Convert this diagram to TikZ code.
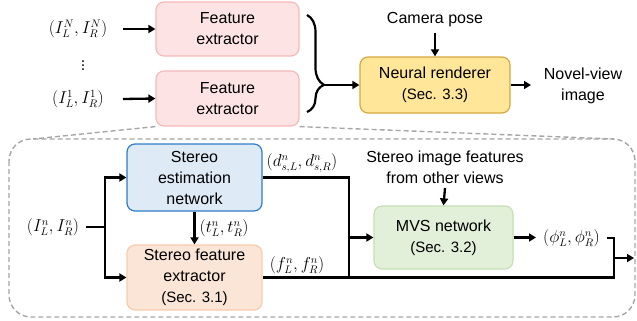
\documentclass[tikz,border=0pt]{standalone}
\usepackage{amsmath}
\usepackage{fontspec}
\setmainfont{Liberation Sans}
\usetikzlibrary{arrows.meta,decorations.pathreplacing}
\definecolor{feFill}{HTML}{FDE3E3}
\definecolor{feDraw}{HTML}{F6B8B8}
\definecolor{nrFill}{HTML}{FFE699}
\definecolor{nrDraw}{HTML}{D6A840}
\definecolor{seFill}{HTML}{DEEBF7}
\definecolor{seDraw}{HTML}{2E7DC6}
\definecolor{sfFill}{HTML}{FBE5D6}
\definecolor{sfDraw}{HTML}{F8CBAD}
\definecolor{mvFill}{HTML}{E2F0D9}
\definecolor{mvDraw}{HTML}{C5E0B4}
\definecolor{dashGray}{HTML}{A6A6A6}
\begin{document}
\begin{tikzpicture}[x=1pt,y=-1pt,
  txt/.style={font=\fontsize{16pt}{21pt}\selectfont, align=center, inner sep=0pt},
  mlab/.style={font=\fontsize{16pt}{20pt}\selectfont, inner sep=0pt},
  box/.style={rounded corners=8pt, line width=1.2pt, align=center, inner sep=0pt,
    font=\fontsize{16pt}{21pt}\selectfont},
  conn/.style={line width=2.3pt, line cap=butt},
  arr/.style={conn, -{Triangle[length=7pt,width=8pt]}},
  dsh/.style={draw=dashGray, line width=1.4pt, dash pattern=on 5pt off 3pt}
]
\useasboundingbox (0,0) rectangle (637,321);
\newcommand{\sectxt}[1]{{\fontsize{15pt}{19pt}\selectfont #1}}

% top part
\node[box, fill=feFill, draw=feDraw, minimum width=143pt, minimum height=54pt] (fe1) at (227.5,29) {Feature\\extractor};
\node[box, fill=feFill, draw=feDraw, minimum width=143pt, minimum height=55pt] (fe2) at (227.5,98.5) {Feature\\extractor};
\node[mlab] (inN) at (78,29) {$(I_L^N, I_R^N)$};
\node[mlab] (in1) at (78,99) {$(I_L^1, I_R^1)$};
\node[mlab] (vd) at (83,63) {$\boldsymbol{\vdots}$};
\coordinate (aN) at (123,29);
\coordinate (a1) at (123,99);
\draw[arr] (aN) -- (fe1.west);
\draw[arr] (a1) -- (fe2.west);

\draw[line width=2.2pt, decorate, decoration={brace, amplitude=17pt, aspect=0.72}] (307,15) -- (307,112);
\coordinate (btip) at (323,85);

\node[box, fill=nrFill, draw=nrDraw, minimum width=150pt, minimum height=56pt] (nr) at (435,85) {Neural renderer\\\sectxt{(Sec. 3.3)}};
\draw[arr] (btip) -- (nr.west);
\node[txt] (cam) at (435,20) {Camera pose};
\coordinate (camA) at (435,33);
\draw[arr] (camA) -- (nr.north);
\coordinate (nvA) at (531,85);
\draw[arr] (nr.east) -- (nvA);
\node[txt] (nv) at (583,86) {Novel-view\\image};

% dashed region
\draw[dsh, rounded corners=22pt] (9,139) rectangle (635,317);
\coordinate (dl) at (33,139);
\coordinate (dr) at (614,139);
\draw[dsh] (fe2.south west) -- (dl);
\draw[dsh] (fe2.south east) -- (dr);

% lower part
\node[box, fill=seFill, draw=seDraw, minimum width=135pt, minimum height=67pt] (se) at (194.5,177.5) {Stereo\\estimation\\network};
\node[box, fill=sfFill, draw=sfDraw, minimum width=135pt, minimum height=65pt] (sf) at (194.5,277.5) {Stereo feature\\extractor\\\sectxt{(Sec. 3.1)}};
\node[box, fill=mvFill, draw=mvDraw, minimum width=139pt, minimum height=63pt] (mvs) at (443.5,237.5) {MVS network\\\sectxt{(Sec. 3.2)}};

\node[mlab] (inn) at (53,227) {$(I_L^n, I_R^n)$};
\coordinate (ia) at (86,227);
\coordinate (ib) at (105,227);
\draw[conn] (ia) -- (ib);
\draw[arr] (ib) |- (se.west);
\draw[arr] (ib) |- (sf.west);

\draw[arr] (se.south) -- (sf.north) node[midway, right=4pt, mlab] (tl) {$(t_L^n, t_R^n)$};

\node[mlab] (dlab) at (302,163) {$(d_{s,L}^n, d_{s,R}^n)$};
\coordinate (dj) at (349,177.5);
\coordinate (djb) at (349,278.6);
\draw[conn] (se.east) -- (dj) -- (djb);
\coordinate (mvin) at (349,237.5);
\draw[arr] (mvin) -- (mvs.west);

\node[mlab] (flab) at (297,265) {$(f_L^n, f_R^n)$};
\node[txt] (oth) at (445,167) {Stereo image features\\from other views};
\coordinate (othA) at (445,188);
\draw[arr] (othA) -- (mvs.north);

\node[mlab] (phi) at (571.5,238) {$(\phi_L^n, \phi_R^n)$};
\coordinate (phA) at (536,237.5);
\draw[arr] (mvs.east) -- (phA);
\coordinate (pr) at (607,238);
\coordinate (pc) at (614,238);
\coordinate (pb) at (614,277.5);
\draw[conn] (pr) -- (pc) -- (pb) -- (sf.east);
\coordinate (oa) at (613,258);
\coordinate (ob) at (634,258);
\draw[arr] (oa) -- (ob);
\end{tikzpicture}
\end{document}
